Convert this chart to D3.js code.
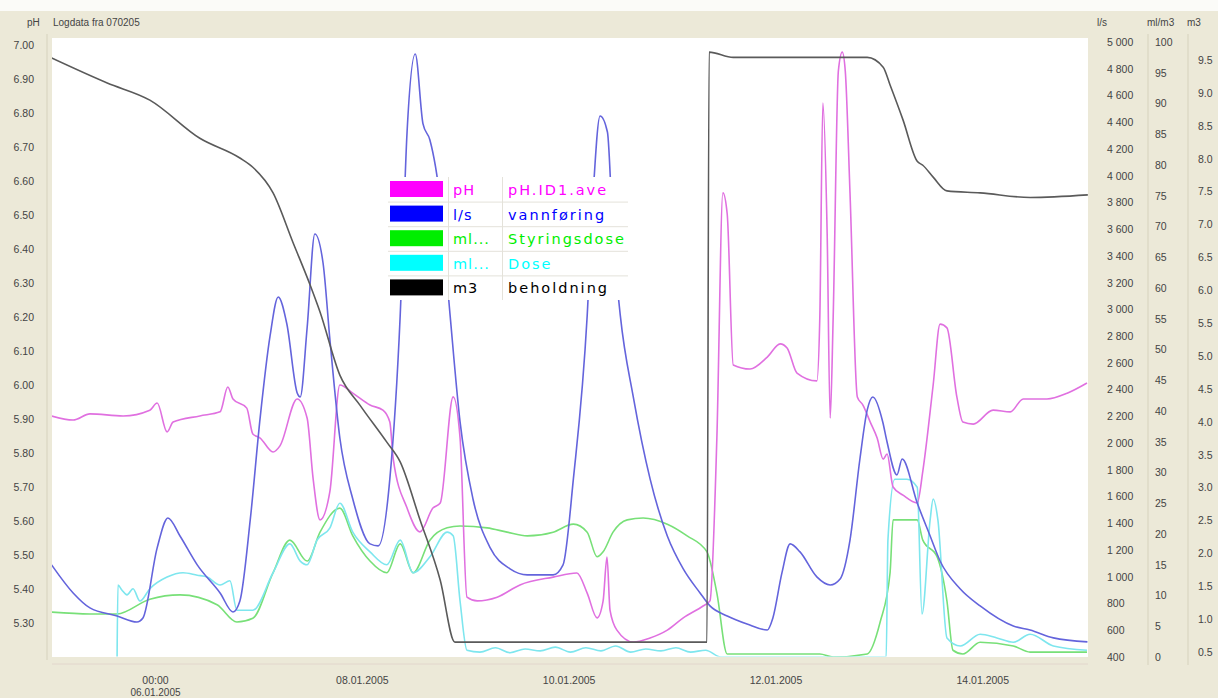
<!DOCTYPE html>
<html><head><meta charset="utf-8">
<script src="https://cdn.jsdelivr.net/npm/d3@7"></script>
<style>body{margin:0;background:#fff}svg{display:block}</style>
</head><body>
<svg id="c" width="1218" height="698"></svg>
<script>
// ---------- DATA (hours since 05.01.2005 00:00, value) ----------
const titleText = "Logdata fra 070205";
const seriesNames = ["pH.ID1.ave", "vannføring", "Styringsdose", "Dose", "beholdning"];
const seriesUnits = ["pH", "l/s", "ml...", "ml...", "m3"];

const phData = [[0,5.909],[5.0,5.897],[8.9,5.915],[16.6,5.909],[22.8,5.926],[24.5,5.947],[26.8,5.862],[28.2,5.891],[34.4,5.909],[39.1,5.921],[40.9,5.994],[42.1,5.959],[45.3,5.932],[46.7,5.856],[48.4,5.844],[51.4,5.803],[53.0,5.821],[57.0,5.959],[59.3,5.903],[60.7,5.724],[62.3,5.603],[64.6,5.688],[66.9,6.000],[69.9,5.976],[73.9,5.941],[76.9,5.926],[78.5,5.891],[79.3,5.782],[82.5,5.638],[85.5,5.568],[88.5,5.638],[90.2,5.653],[93.2,5.965],[94.8,5.844],[96.4,5.376],[98.8,5.365],[103.4,5.376],[108.7,5.412],[116.4,5.435],[121.9,5.447],[124.3,5.388],[126.6,5.315],[128.0,5.365],[128.9,5.494],[129.6,5.338],[131.2,5.279],[135.0,5.244],[138.9,5.256],[142.9,5.279],[146.6,5.315],[151.2,5.350],[152.8,5.365],[154.4,5.844],[155.8,6.565],[156.8,6.503],[158.2,6.059],[162.1,6.047],[166.1,6.082],[169.1,6.121],[170.7,6.109],[173.0,6.035],[177.6,6.012],[178.3,6.203],[179.0,6.829],[180.0,6.444],[180.7,5.903],[181.4,6.203],[182.6,6.924],[183.5,6.979],[184.2,6.924],[185.3,6.565],[187.0,5.965],[188.3,5.941],[190.0,5.891],[191.6,5.844],[193.0,5.782],[193.9,5.797],[195.3,5.700],[197.6,5.676],[200.9,5.653],[202.2,5.747],[204.6,6.000],[206.2,6.179],[207.8,6.168],[210.1,5.965],[211.5,5.891],[213.9,5.885],[218.5,5.926],[222.5,5.921],[225.5,5.959],[231.0,5.959],[235.7,5.976],[240.3,6.006]];

const flowData = [[0,1089],[5.0,879],[8.9,767],[15.2,707],[19.8,662],[21.2,692],[24.5,1216],[27.0,1440],[29.8,1305],[33.8,1089],[39.1,879],[42.1,737],[43.7,819],[46.1,1425],[48.4,2188],[50.7,2801],[52.6,3093],[54.6,2891],[57.0,2375],[57.7,2345],[59.3,2861],[61.1,3564],[63.0,3347],[64.6,2771],[66.9,2038],[69.9,1582],[73.9,1246],[75.8,1231],[78.5,1732],[80.9,2951],[82.5,4327],[84.4,4910],[86.2,4387],[87.8,4267],[90.2,3811],[92.5,2951],[94.8,2158],[97.8,1582],[101.8,1216],[106.4,1059],[110.4,1014],[116.4,1014],[118.7,1089],[121.1,1732],[124.3,2951],[125.7,3871],[127.3,4447],[129.0,4327],[130.3,3564],[132.0,2951],[135.0,2345],[138.9,1732],[142.9,1305],[146.6,1059],[150.5,879],[152.8,782],[156.8,707],[161.4,647],[166.1,602],[167.4,692],[169.5,1029],[171.4,1246],[173.7,1186],[177.6,999],[180.7,939],[183.0,984],[185.3,1275],[187.6,1881],[189.3,2248],[190.6,2345],[192.9,2158],[193.9,2008],[196.2,1762],[197.4,1881],[200.9,1552],[203.9,1305],[206.2,1118],[210.9,909],[215.5,782],[223.2,632],[227.1,602],[232.5,543],[240.4,513]];

const controlDoseData = [[0,7.3],[8.9,7.0],[15.2,7.0],[22.8,9.4],[29.8,10.1],[38.4,8.5],[43.0,5.7],[46.7,6.3],[51.4,13.7],[55.3,19.0],[59.3,15.6],[62.3,20.3],[66.9,24.2],[69.9,19.7],[73.9,15.6],[77.8,13.7],[80.9,18.4],[83.9,13.7],[87.8,19.0],[91.8,21.0],[94.8,21.3],[101.1,21.0],[105.7,20.3],[110.4,19.7],[116.4,20.3],[121.1,21.6],[124.3,20.3],[126.6,16.3],[128.0,17.1],[130.3,20.3],[133.6,22.3],[137.3,22.6],[142.9,21.6],[147.5,19.7],[152.1,17.1],[154.4,10.4],[156.8,0.5],[178.3,0.5],[181.4,0],[189.3,0.5],[192.3,5.7],[194.6,13.7],[195.3,22.3],[200.9,22.3],[202.2,19.0],[205.5,16.3],[207.8,9.1],[209.2,1.1],[211.5,0.5],[215.5,2.4],[223.2,1.8],[227.1,0.8],[240.3,0.8]];

const doseData = [[15.2,0],[15.4,11.7],[16.3,10.9],[17.5,10.1],[18.9,11.1],[20.5,9.1],[22.8,11.1],[26.8,13.0],[30.5,13.7],[33.8,13.3],[36.1,13.0],[39.1,11.7],[41.4,12.4],[43.0,7.6],[46.7,7.6],[51.4,13.7],[55.3,18.4],[57.7,15.6],[59.3,15.0],[61.6,19.0],[64.6,21.0],[66.9,25.0],[69.9,20.3],[73.9,17.1],[77.8,15.0],[80.9,19.0],[83.9,13.7],[87.8,16.3],[91.8,20.3],[93.2,19.7],[94.8,9.1],[96.4,1.1],[99.4,0.8],[103.0,1.5],[106.4,0.7],[109.9,1.3],[113.4,1.0],[116.9,1.6],[120.4,0.8],[124.0,1.5],[127.5,1.0],[130.9,1.8],[134.4,0.8],[137.9,1.3],[141.4,1.0],[144.9,1.5],[148.3,0.8],[151.8,1.1],[155.3,0],[193.7,0],[194.1,19.0],[195.7,28.9],[198.5,28.9],[200.9,27.6],[202.0,7.0],[203.9,22.3],[204.6,25.7],[205.7,22.3],[207.8,3.1],[210.9,1.8],[215.5,3.7],[219.4,3.1],[223.2,2.4],[227.1,3.7],[232.5,1.8],[240.3,1.1]];

const storageData = [[0,9.53],[12.9,9.15],[22.8,8.89],[34.4,8.31],[43.7,8.01],[46.7,7.87],[51.4,7.48],[56.0,6.73],[60.0,6.08],[62.3,5.67],[66.9,4.71],[71.6,4.25],[77.8,3.69],[80.9,3.39],[85.5,2.51],[90.2,1.59],[93.6,0.65],[150.5,0.65],[152.1,0.65],[152.6,9.62],[158.2,9.54],[189.3,9.54],[193.0,9.39],[194.6,9.12],[197.6,8.59],[200.9,7.96],[202.2,7.90],[204.6,7.72],[207.8,7.51],[215.5,7.48],[227.1,7.41],[240.5,7.45]];

const phTicks = [7.00,6.90,6.80,6.70,6.60,6.50,6.40,6.30,6.20,6.10,6.00,5.90,5.80,5.70,5.60,5.50,5.40,5.30];
const flowTicks = [5000,4800,4600,4400,4200,4000,3800,3600,3400,3200,3000,2800,2600,2400,2200,2000,1800,1600,1400,1200,1000,800,600,400];
const doseTicks = [100,95,90,85,80,75,70,65,60,55,50,45,40,35,30,25,20,15,10,5,0];
const storageTicks = [9.5,9.0,8.5,8.0,7.5,7.0,6.5,6.0,5.5,5.0,4.5,4.0,3.5,3.0,2.5,2.0,1.5,1.0,0.5];
const xTickDates = ["2005-01-06","2005-01-08","2005-01-10","2005-01-12","2005-01-14"];
const xTickLabels = ["06.01.2005","08.01.2005","10.01.2005","12.01.2005","14.01.2005"];

// ---------- STYLE / LAYOUT ----------
const W = 1218, H = 698;
const P = {left: 52, right: 1088, top: 38, bottom: 657};
const bg = "#ece9d8";
const lineColors = {ph:"#e070e0", flow:"#6464dc", ctrl:"#78e078", dose:"#7ee6ee", stor:"#5a5a5a"};
const legendColors = ["#ff00ff","#0000ff","#00ee00","#00ffff","#000000"];
const font = "Liberation Sans, Arial, sans-serif";

const svg = d3.select("#c");
const start = new Date(2005,0,5,0,0);
const toDate = h => new Date(start.getTime() + h*3600e3);

const x = d3.scaleTime().domain([start, new Date(2005,0,15,1,0)]).range([51.6, 1090]);
const yPH = d3.scaleLinear().domain([5.30, 7.00]).range([623, 45]);
const yFlow = d3.scaleLinear().domain([400, 5000]).range([657, 42]);
const yDose = d3.scaleLinear().domain([0, 100]).range([657, 42]);
const yStor = d3.scaleLinear().domain([0.5, 9.5]).range([652, 60]);

// background
svg.append("rect").attr("width", W).attr("height", H).attr("fill", bg);
svg.append("rect").attr("width", W).attr("height", 11).attr("fill", "#fbfbf8");
svg.append("rect").attr("x", P.left).attr("y", P.top).attr("width", P.right-P.left).attr("height", P.bottom-P.top).attr("fill", "#ffffff");
svg.append("line").attr("x1", 47).attr("x2", 47).attr("y1", 34).attr("y2", 660).attr("stroke", "#d6d2bd");
svg.append("line").attr("x1", 1148).attr("x2", 1148).attr("y1", 34).attr("y2", 665).attr("stroke", "#d6d2bd");
svg.append("line").attr("x1", 1188).attr("x2", 1188).attr("y1", 34).attr("y2", 665).attr("stroke", "#d6d2bd");
svg.append("line").attr("x1", P.left).attr("x2", P.right).attr("y1", 664).attr("y2", 664).attr("stroke", "#e2d6cc");

// headers
const hdr = svg.append("g").attr("font-family", font).attr("font-size", 10).attr("fill", "#444");
hdr.append("text").attr("x", 27).attr("y", 26).text("pH");
hdr.append("text").attr("x", 53).attr("y", 26).text(titleText);
hdr.append("text").attr("x", 1097).attr("y", 26).text("l/s");
hdr.append("text").attr("x", 1147).attr("y", 26).text("ml/m3");
hdr.append("text").attr("x", 1187).attr("y", 26).text("m3");

// clip
svg.append("clipPath").attr("id", "pc").append("rect")
  .attr("x", P.left).attr("y", P.top).attr("width", P.right-P.left).attr("height", P.bottom-P.top-0.5);
const plot = svg.append("g").attr("clip-path", "url(#pc)");

function drawLine(data, yScale, color) {
  const gen = d3.line().curve(d3.curveMonotoneX).x(d => x(toDate(d[0]))).y(d => yScale(d[1]));
  plot.append("path").datum(data).attr("d", gen).attr("fill", "none")
    .attr("stroke", color).attr("stroke-width", 1.6).attr("stroke-linejoin", "round");
}
drawLine(controlDoseData, yDose, lineColors.ctrl);
drawLine(doseData, yDose, lineColors.dose);
drawLine(phData, yPH, lineColors.ph);
drawLine(flowData, yFlow, lineColors.flow);
drawLine(storageData, yStor, lineColors.stor);

// axes
function styleAxis(g) {
  g.select(".domain").remove();
  g.selectAll("text").attr("font-family", font).attr("font-size", 10.5).attr("fill", "#444");
}
svg.append("g").attr("transform", "translate(35,0)")
  .call(d3.axisLeft(yPH).tickValues(phTicks).tickFormat(d3.format(".2f")).tickSize(0).tickPadding(1))
  .call(styleAxis);
svg.append("g").attr("transform", "translate(1105,0)")
  .call(d3.axisRight(yFlow).tickValues(flowTicks).tickFormat(d => d >= 1000 ? d3.format(",")(d).replace(",", " ") : String(d)).tickSize(0).tickPadding(2))
  .call(styleAxis);
svg.append("g").attr("transform", "translate(1153,0)")
  .call(d3.axisRight(yDose).tickValues(doseTicks).tickFormat(d3.format("d")).tickSize(0).tickPadding(2))
  .call(styleAxis);
svg.append("g").attr("transform", "translate(1196,0)")
  .call(d3.axisRight(yStor).tickValues(storageTicks).tickFormat(d3.format(".1f")).tickSize(0).tickPadding(2))
  .call(styleAxis);

const xDates = xTickDates.map(s => { const p = s.split("-").map(Number); return new Date(p[0], p[1]-1, p[2]); });
const xg = svg.append("g").attr("transform", "translate(0,677)")
  .call(d3.axisBottom(x).tickValues(xDates).tickFormat((d,i) => i === 0 ? "00:00" : xTickLabels[i]).tickSize(0).tickPadding(0))
  .call(styleAxis);
xg.selectAll(".tick").filter((d,i) => i === 0).append("text")
  .attr("y", 11.5).attr("dy", "0.71em").attr("text-anchor", "middle")
  .attr("font-family", font).attr("font-size", 10).attr("fill", "#444").text(xTickLabels[0]);

// legend
const L = {x: 388, y: 177, w: 240, rowH: 24.6};
const lg = svg.append("g");
svg.append("clipPath").attr("id", "lc").append("rect").attr("x", L.x).attr("y", L.y).attr("width", L.w).attr("height", L.rowH*5);
lg.attr("clip-path", "url(#lc)");
lg.append("rect").attr("x", L.x).attr("y", L.y).attr("width", L.w).attr("height", L.rowH*5).attr("fill", "#fff");
seriesNames.forEach((name, i) => {
  const ry = L.y + i*L.rowH;
  lg.append("rect").attr("x", 390).attr("y", ry+4).attr("width", 53).attr("height", 16).attr("fill", legendColors[i]);
  if (i > 0) lg.append("line").attr("x1", L.x).attr("x2", L.x+L.w).attr("y1", ry+0.5).attr("y2", ry+0.5).attr("stroke", "#e4e2da");
  const tc = i === 4 ? "#000" : legendColors[i];
  lg.append("text").attr("x", 453).attr("y", ry+18).attr("font-family", "DejaVu Sans, sans-serif").attr("font-size", 14.5)
    .attr("fill", tc).attr("letter-spacing", 1).text(seriesUnits[i]);
  lg.append("text").attr("x", 508).attr("y", ry+18).attr("font-family", "DejaVu Sans, sans-serif").attr("font-size", 14.5)
    .attr("fill", tc).attr("letter-spacing", 2).text(name);
});
lg.append("line").attr("x1", 448.5).attr("x2", 448.5).attr("y1", L.y).attr("y2", L.y+L.rowH*5).attr("stroke", "#e4e2da");
lg.append("line").attr("x1", 502.5).attr("x2", 502.5).attr("y1", L.y).attr("y2", L.y+L.rowH*5).attr("stroke", "#e4e2da");
</script>
</body></html>
